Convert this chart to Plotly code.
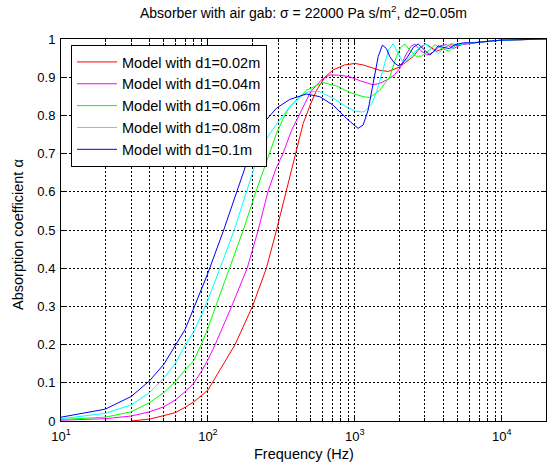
import plotly.graph_objects as go

# ---------------- data ----------------
series_names = ["Model with d1=0.02m", "Model with d1=0.04m", "Model with d1=0.06m",
                "Model with d1=0.08m", "Model with d1=0.1m"]
series_colors = ["#FF0000", "#FF00FF", "#00FF00", "#00FFFF", "#0000FF"]

freq_d002 = [30, 40, 50, 60, 70, 80, 90, 100, 107, 125, 153, 201, 250, 293, 340, 380, 445, 500,
             549, 625, 711, 850, 1000, 1140, 1300, 1480, 1687, 1850, 2000, 2200, 2497, 2750, 3030,
             3300, 3600, 4000, 4400, 5000, 5800, 7000, 8500, 10000, 13000, 20000]
alpha_d002 = [0.0, 0.005, 0.014, 0.022, 0.036, 0.05, 0.066, 0.081, 0.10, 0.145, 0.20, 0.30, 0.40,
              0.50, 0.60, 0.675, 0.779, 0.83, 0.866, 0.90, 0.919, 0.932, 0.936, 0.932, 0.925,
              0.918, 0.915, 0.92, 0.926, 0.938, 0.954, 0.975, 0.987, 0.978, 0.968, 0.975, 0.985,
              0.983, 0.988, 0.992, 0.995, 0.997, 0.998, 1.0]

freq_d004 = [10, 20, 30, 40, 50, 60, 70, 80, 90, 100, 112, 145, 185, 220, 256, 290, 324, 370, 423,
             500, 600, 676, 800, 925, 1100, 1333, 1500, 1650, 1850, 2024, 2200, 2400, 2560, 2800,
             3100, 3400, 3800, 4200, 4700, 5300, 6500, 8000, 10000, 13000, 20000]
alpha_d004 = [0.002, 0.006, 0.013, 0.024, 0.037, 0.055, 0.077, 0.099, 0.129, 0.16, 0.20, 0.30,
              0.40, 0.50, 0.60, 0.66, 0.70, 0.76, 0.805, 0.862, 0.895, 0.906, 0.905, 0.901, 0.89,
              0.88, 0.885, 0.893, 0.905, 0.923, 0.955, 0.98, 0.987, 0.97, 0.958, 0.965, 0.982,
              0.985, 0.975, 0.985, 0.99, 0.994, 0.997, 0.998, 1.0]

freq_d006 = [10, 20, 30, 40, 50, 60, 70, 80, 90, 100, 113, 141, 174, 212, 244, 293, 333, 361, 469,
             608, 750, 925, 1140, 1266, 1480, 1729, 1918, 2050, 2188, 2350, 2600, 2850, 3200, 3500,
             3900, 4400, 4900, 5500, 6500, 8000, 10000, 13000, 20000]
alpha_d006 = [0.004, 0.010, 0.024, 0.048, 0.074, 0.103, 0.134, 0.158, 0.20, 0.243, 0.30, 0.40,
              0.50, 0.60, 0.666, 0.753, 0.80, 0.823, 0.866, 0.886, 0.877, 0.86, 0.849, 0.847,
              0.866, 0.901, 0.954, 0.978, 0.987, 0.972, 0.955, 0.955, 0.97, 0.985, 0.975, 0.968,
              0.985, 0.988, 0.99, 0.994, 0.997, 0.998, 1.0]

freq_d008 = [10, 20, 30, 40, 50, 60, 70, 80, 90, 100, 121, 151, 183, 226, 264, 293, 361, 445, 494,
             578, 711, 878, 1000, 1100, 1170, 1300, 1406, 1500, 1600, 1700, 1824, 1950, 2100, 2250,
             2500, 2800, 3050, 3300, 3700, 4100, 4500, 5200, 6000, 7500, 10000, 13000, 20000]
alpha_d008 = [0.006, 0.020, 0.042, 0.074, 0.112, 0.151, 0.199, 0.234, 0.276, 0.317, 0.40, 0.50,
              0.60, 0.71, 0.752, 0.777, 0.823, 0.855, 0.863, 0.862, 0.845, 0.822, 0.812, 0.809,
              0.81, 0.83, 0.862, 0.90, 0.94, 0.972, 0.988, 0.965, 0.942, 0.945, 0.962, 0.98,
              0.987, 0.975, 0.962, 0.978, 0.988, 0.985, 0.99, 0.993, 0.997, 0.998, 1.0]

freq_d010 = [10, 20, 30, 40, 50, 60, 70, 80, 90, 100, 128, 158, 193, 238, 293, 361, 469, 578, 711,
             878, 1000, 1052, 1140, 1231, 1333, 1442, 1541, 1640, 1729, 1850, 1972, 2100, 2300,
             2500, 2697, 2900, 3236, 3450, 3689, 4000, 4400, 4800, 5500, 6500, 7500, 8500, 10000,
             12000, 20000]
alpha_d010 = [0.010, 0.031, 0.064, 0.105, 0.148, 0.199, 0.240, 0.295, 0.343, 0.387, 0.50, 0.60,
              0.70, 0.779, 0.819, 0.842, 0.856, 0.849, 0.827, 0.792, 0.772, 0.766, 0.775, 0.814,
              0.884, 0.954, 0.984, 0.975, 0.954, 0.938, 0.93, 0.935, 0.955, 0.978, 0.987, 0.975,
              0.958, 0.968, 0.982, 0.978, 0.975, 0.985, 0.99, 0.99, 0.993, 0.995, 0.997, 0.998, 1.0]

freqs = [freq_d002, freq_d004, freq_d006, freq_d008, freq_d010]
alphas = [alpha_d002, alpha_d004, alpha_d006, alpha_d008, alpha_d010]

x_major = [10, 100, 1000, 10000]
x_major_text = ["10<sup>1</sup>", "10<sup>2</sup>", "10<sup>3</sup>", "10<sup>4</sup>"]
x_minor = [20, 30, 40, 50, 60, 70, 80, 90, 200, 300, 400, 500, 600, 700, 800, 900,
           2000, 3000, 4000, 5000, 6000, 7000, 8000, 9000]
y_ticks = [0, 0.1, 0.2, 0.3, 0.4, 0.5, 0.6, 0.7, 0.8, 0.9, 1.0]
y_tick_text = ["0", "0.1", "0.2", "0.3", "0.4", "0.5", "0.6", "0.7", "0.8", "0.9", "1"]

title_text = "Absorber with air gab: σ = 22000 Pa s/m<sup>2</sup>, d2=0.05m"
x_title = "Frequency (Hz)"
y_title = "Absorption coefficient α"

# ---------------- figure ----------------
FONT = "Liberation Sans, Arial, Helvetica, sans-serif"
W, H = 547, 462
ML, MR, MT, MB = 61, 1, 39, 41

fig = go.Figure()
for name, col, f, a in zip(series_names, series_colors, freqs, alphas):
    fig.add_trace(go.Scatter(x=f, y=a, mode="lines", name=name,
                             line=dict(color=col, width=1)))

grid = dict(showgrid=True, gridcolor="#000000", gridwidth=1, griddash="2px,2px")
common = dict(showline=True, linecolor="#000000", linewidth=1, mirror="allticks",
              ticks="inside", ticklen=5, tickcolor="#000000", tickwidth=1,
              zeroline=False, tickfont=dict(family=FONT, size=13, color="#000000"), **grid)

fig.update_xaxes(type="log", range=[1, 4.30103], tickmode="array", tickvals=x_major,
                 ticktext=x_major_text, ticklabelstandoff=3,
                 minor=dict(tickmode="array", tickvals=x_minor, showgrid=True,
                            gridcolor="#000000", gridwidth=1, griddash="2px,2px",
                            ticks="inside", ticklen=3, tickcolor="#000000"),
                 **common)
fig.update_yaxes(range=[0, 1], tickmode="array", tickvals=y_ticks, ticktext=y_tick_text,
                 ticklabelstandoff=2, **common)

fig.update_layout(
    width=W, height=H,
    margin=dict(l=ML, r=MR, t=MT, b=MB, pad=0),
    paper_bgcolor="white", plot_bgcolor="white",
    font=dict(family=FONT, size=14, color="#000000"),
    showlegend=True,
    legend=dict(x=(71 - ML) / (W - ML - MR), y=(H - MB - 45) / (H - MT - MB),
                xanchor="left", yanchor="top",
                bgcolor="white", bordercolor="#000000", borderwidth=1,
                font=dict(family=FONT, size=14.5, color="#000000"),
                itemwidth=40, tracegroupgap=0),
    annotations=[
        dict(text=title_text, xref="paper", yref="paper", x=0.5, y=1,
             yshift=27, xanchor="center", yanchor="middle", showarrow=False,
             font=dict(family=FONT, size=14)),
        dict(text=x_title, xref="paper", yref="paper", x=0.5, y=0,
             yshift=-33, xanchor="center", yanchor="middle", showarrow=False,
             font=dict(family=FONT, size=14.5)),
        dict(text=y_title, xref="paper", yref="paper", x=0, y=0.5,
             xshift=-43, yshift=-5, xanchor="center", yanchor="middle", textangle=-90,
             showarrow=False, font=dict(family=FONT, size=14.5)),
    ],
)

fig.write_html("out.html")
